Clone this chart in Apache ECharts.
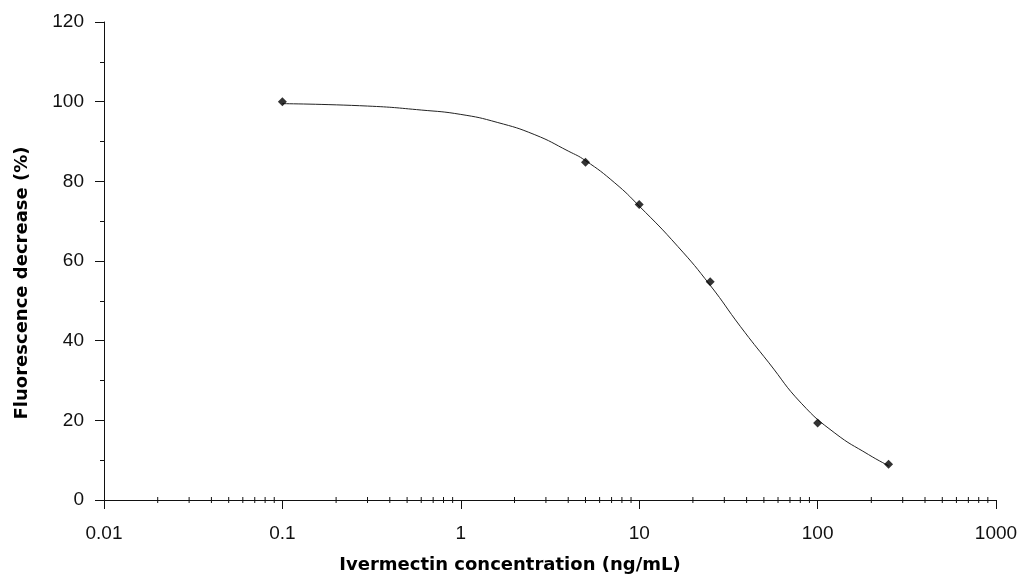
<!DOCTYPE html>
<html>
<head>
<meta charset="utf-8">
<script src="https://cdn.jsdelivr.net/npm/echarts@6/dist/echarts.min.js"></script>
<style>
  html, body { margin: 0; padding: 0; background: #fff; }
  #main { width: 1022px; height: 575px; }
</style>
</head>
<body>
<div id="main"></div>
<script>
// measured points (concentration ng/mL, % decrease)
var concentrations = [0.1, 5, 10, 25, 100, 250];
var decrease = [100, 84.8, 74.2, 54.8, 19.3, 9.0];

// fitted curve
var curveX = [0.1, 0.3, 0.6, 1.0, 1.6, 2.6, 4.0, 5.0, 7.3, 10, 16.5, 25, 37, 53, 81, 125, 193, 250];
var curveY = [99.5, 98.9, 97.9, 96.8, 94.8, 91.7, 87.6, 85.2, 79.6, 73.8, 63.6, 53.9, 43.5, 34.6, 24.3, 16.8, 11.4, 8.6];

var xTicks = [0.01, 0.1, 1, 10, 100, 1000];
var yTicks = [0, 20, 40, 60, 80, 100, 120];

// minor tick positions 2..9 in every decade
var minorX = [];
xTicks.slice(0, -1).forEach(function (d) {
    for (var k = 2; k <= 9; k++) minorX.push(+(d * k).toPrecision(3));
});

var font = 'Liberation Sans';
var titleFont = 'DejaVu Sans';
var myChart = echarts.init(document.getElementById('main'));

myChart.setOption({
    animation: false,
    grid: { left: 104, right: 26, top: 22, bottom: 75 },
    graphic: [
        {
            type: 'text', x: 510, y: 565,
            style: {
                text: 'Ivermectin concentration (ng/mL)',
                font: 'bold 18px "' + titleFont + '"', fill: '#000',
                align: 'center', verticalAlign: 'middle'
            }
        },
        {
            type: 'text', x: 22, y: 283, rotation: Math.PI / 2,
            style: {
                text: 'Fluorescence decrease (%)',
                font: 'bold 18px "' + titleFont + '"', fill: '#000',
                align: 'center', verticalAlign: 'middle'
            }
        }
    ],
    xAxis: {
        type: 'log',
        logBase: 10,
        min: xTicks[0],
        max: xTicks[xTicks.length - 1],
        axisLine: { lineStyle: { color: '#111', width: 1 } },
        axisTick: { length: 9, lineStyle: { color: '#111' } },
        axisLabel: {
            fontFamily: font, fontSize: 19, color: '#111', margin: 24,
            formatter: function (v) { return String(+v.toPrecision(3)); }
        },
        splitLine: { show: false }
    },
    yAxis: {
        type: 'value',
        min: yTicks[0],
        max: yTicks[yTicks.length - 1],
        interval: 20,
        axisLine: { show: true, lineStyle: { color: '#111', width: 1 } },
        axisTick: { show: true, length: 9, lineStyle: { color: '#111' } },
        minorTick: { show: true, splitNumber: 2, length: 4, lineStyle: { color: '#111' } },
        axisLabel: { fontFamily: font, fontSize: 19, color: '#111', margin: 20 },
        splitLine: { show: false }
    },
    series: [
        {
            type: 'line',
            data: curveX.map(function (x, i) { return [x, curveY[i]]; }),
            smooth: 0.5,
            showSymbol: false,
            lineStyle: { color: '#222', width: 1 },
            z: 2
        },
        {
            type: 'scatter',
            data: concentrations.map(function (x, i) { return [x, decrease[i]]; }),
            symbol: 'diamond',
            symbolSize: 9,
            itemStyle: { color: '#000' },
            z: 3
        },
        {
            // small tick marks along the log x axis
            type: 'custom',
            silent: true,
            data: minorX.map(function (x) { return [x, 0]; }),
            renderItem: function (params, api) {
                var p = api.coord([api.value(0), 0]);
                return {
                    type: 'line',
                    shape: { x1: p[0], y1: p[1] - 3, x2: p[0], y2: p[1] + 3 },
                    style: { stroke: '#111', lineWidth: 1 }
                };
            },
            z: 1
        }
    ]
});
</script>
</body>
</html>
